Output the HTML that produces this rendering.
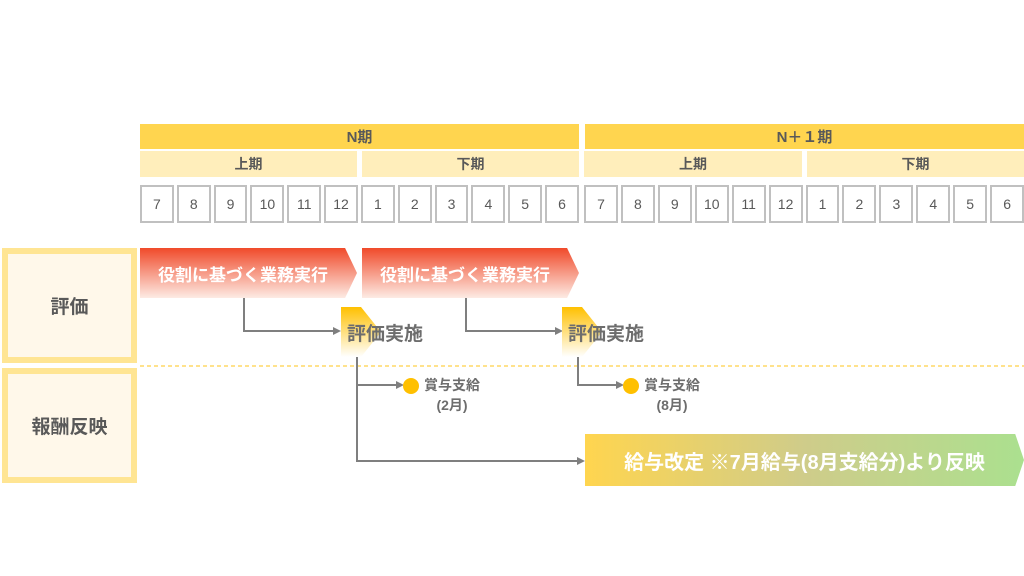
<!DOCTYPE html>
<html><head><meta charset="utf-8"><style>
body{margin:0;width:1024px;height:576px;background:#fff;position:relative;overflow:hidden;font-family:"Liberation Sans","Noto Sans CJK JP",sans-serif;}
.a{position:absolute;}
.hd{background:#ffd54f;color:#595959;font-weight:bold;font-size:15px;display:flex;align-items:center;justify-content:center;}
.sb{background:#ffeebb;color:#595959;font-weight:bold;font-size:14px;display:flex;align-items:center;justify-content:center;}
.row{display:flex;gap:3px;}
.row div{flex:1;height:34px;border:2px solid #c0c0c0;display:flex;align-items:center;justify-content:center;color:#595959;font-size:14px;}
.lb{box-sizing:border-box;border:6px solid #ffe593;background:#fff8ea;color:#595959;font-weight:bold;font-size:19px;display:flex;align-items:center;justify-content:center;}
.red{background:linear-gradient(#f04a2a,#fdebe4);clip-path:polygon(0 0,94.5% 0,100% 50%,94.5% 100%,0 100%);color:#fff;font-weight:bold;font-size:17px;display:flex;align-items:center;padding-left:18px;box-sizing:border-box;}
.ev{background:linear-gradient(#ffc000,#fff);clip-path:polygon(0 0,50% 0,100% 50%,50% 100%,0 100%);}
.evt{color:#6d6d6d;font-weight:bold;font-size:19px;}
.dot{width:16px;height:16px;border-radius:50%;background:#ffc000;}
.st{color:#6d6d6d;font-weight:bold;font-size:14px;text-align:center;line-height:20px;}
</style></head><body>
<div class="a hd" style="left:140px;top:124px;width:439px;height:25px">N期</div>
<div class="a hd" style="left:585px;top:124px;width:439px;height:25px">N＋１期</div>
<div class="a sb" style="left:140px;top:151px;width:217px;height:26px">上期</div>
<div class="a sb" style="left:362px;top:151px;width:217px;height:26px">下期</div>
<div class="a sb" style="left:584px;top:151px;width:218px;height:26px">上期</div>
<div class="a sb" style="left:807px;top:151px;width:217px;height:26px">下期</div>
<div class="a row" style="left:140px;top:185px;width:439px"><div>7</div><div>8</div><div>9</div><div>10</div><div>11</div><div>12</div><div>1</div><div>2</div><div>3</div><div>4</div><div>5</div><div>6</div></div>
<div class="a row" style="left:584px;top:185px;width:440px"><div>7</div><div>8</div><div>9</div><div>10</div><div>11</div><div>12</div><div>1</div><div>2</div><div>3</div><div>4</div><div>5</div><div>6</div></div>

<div class="a lb" style="left:2px;top:248px;width:135px;height:115px">評価</div>
<div class="a lb" style="left:2px;top:368px;width:135px;height:115px">報酬反映</div>

<div class="a red" style="left:140px;top:248px;width:217px;height:50px">役割に基づく業務実行</div>
<div class="a red" style="left:362px;top:248px;width:217px;height:50px">役割に基づく業務実行</div>

<svg class="a" style="left:0;top:0" width="1024" height="576">
<line x1="140" y1="366" x2="1024" y2="366" stroke="#ffd966" stroke-width="1.5" stroke-dasharray="4,3"/>
<g stroke="#7f7f7f" stroke-width="2" fill="none">
<polyline points="244,298 244,331 334,331"/>
<polyline points="466,298 466,331 556,331"/>
<polyline points="357,357 357,461 578,461"/>
<polyline points="357,385 398,385"/>
<polyline points="578,357 578,385 618,385"/>
</g>
<g fill="#7f7f7f">
<polygon points="341,331 333,327 333,335"/>
<polygon points="563,331 555,327 555,335"/>
<polygon points="585,461 577,457 577,465"/>
<polygon points="404,385 396,381 396,389"/>
<polygon points="624,385 616,381 616,389"/>
</g>
</svg>

<div class="a ev" style="left:341px;top:307px;width:40px;height:50px"></div>
<div class="a ev" style="left:562px;top:307px;width:40px;height:50px"></div>
<div class="a evt" style="left:347px;top:319px">評価実施</div>
<div class="a evt" style="left:568px;top:319px">評価実施</div>

<div class="a dot" style="left:403px;top:378px"></div>
<div class="a dot" style="left:623px;top:378px"></div>
<div class="a st" style="left:418px;top:375px;width:68px">賞与支給<br>(2月)</div>
<div class="a st" style="left:638px;top:375px;width:68px">賞与支給<br>(8月)</div>

<div class="a" style="left:585px;top:434px;width:439px;height:52px;background:linear-gradient(90deg,#ffd54f,#cfcc8a 50%,#abe08f);clip-path:polygon(0 0,98% 0,100% 50%,98% 100%,0 100%);color:#fff;font-weight:bold;font-size:20px;display:flex;align-items:center;justify-content:center;">給与改定 ※7月給与(8月支給分)より反映</div>
</body></html>
